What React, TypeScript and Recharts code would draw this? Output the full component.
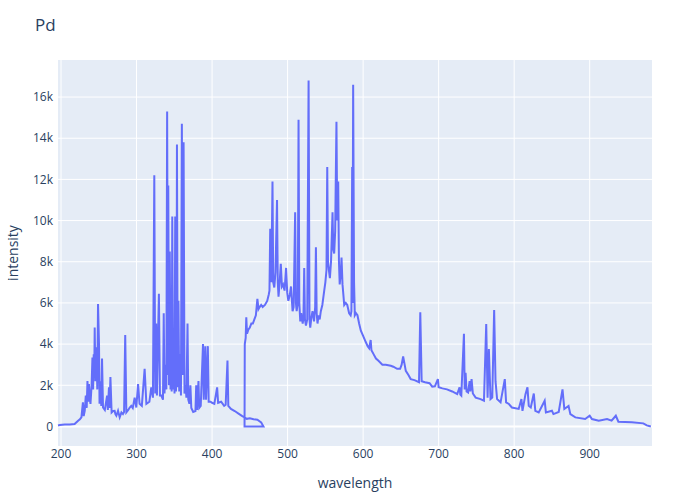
import { LineChart, Line, XAxis, YAxis, CartesianGrid, ReferenceLine } from 'recharts'

// first detector segment (ends near 468 nm)
const wl1 = [
  196, 198.4, 205, 211.6, 218, 222.6, 225, 227, 229, 230, 231.4, 232.8, 234, 235, 236, 237, 238, 239,
  240.5, 241.6, 242.5, 243.3, 244, 244.6, 245.5, 247, 248, 249, 250.3, 251, 252.6, 253.3, 254.3, 255.6,
  258, 261, 262, 263.5, 264.3, 265.4, 267, 269, 271, 272, 273.3, 275.5, 277.7, 280, 282, 283.5, 285,
  286.5, 289, 291, 293, 295, 297.5, 299.7, 302, 304, 307, 310.7, 313, 317, 319.5, 321.7, 323.5, 324.7,
  326, 327, 328, 329.6, 331, 332.8, 335, 336, 337, 338.5, 339.5, 340.5, 341.5, 342, 343, 344, 345, 346,
  346.5, 347.3, 348.3, 349.3, 350.3, 351.2, 352.2, 353, 353.5, 354.5, 355.5, 356.5, 358, 358.8, 360,
  361, 362.3, 363.5, 365, 366, 367.5, 368.5, 370, 371.3, 372.5, 375, 378, 379, 380, 382, 383, 385, 388,
  389, 391, 392, 394.4, 395.5, 398, 400, 403, 406.7, 408, 412, 416, 418, 420.4, 421.5, 425, 430, 436,
  440, 443, 446, 450, 455, 460, 465, 468,
]
const int1 = [
  50, 70, 90, 100, 120, 280, 350, 440, 1170, 500, 760, 1500, 900, 2200, 1200, 2060, 1400, 1090,
  2000, 3350, 1800, 3500, 2500, 4800, 2200, 3840, 1800, 5950, 4000, 1100, 2200, 1000, 3300, 920,
  800, 1500, 800, 1900, 900, 2400, 680, 750, 760, 600, 520, 760, 440, 680, 600, 700, 4440,
  680, 800, 920, 1000, 900, 1400, 920, 2060, 1100, 1000, 2800, 1100, 1200, 1900, 1400, 12200, 1600,
  5000, 1500, 3500, 6450, 1500, 1500, 1300, 5500, 1600, 3000, 1800, 15300, 2500, 11700, 2000, 8500, 1800, 6000,
  1700, 10200, 1800, 4500, 1600, 10200, 1700, 4000, 13700, 1900, 6100, 1700, 3500, 1500, 14700,
  2500, 13800, 1600, 2000, 1400, 5000, 1300, 1100, 2000, 900, 700, 750, 2000, 800, 2200, 900, 1000, 4000,
  1300, 3900, 1300, 3900, 1200, 1200, 1150, 1100, 1900, 1150, 1200, 1000, 1050, 3200, 1000, 850, 750, 600,
  500, 440, 370, 400, 350, 330, 200, 0,
]

// second detector segment (starts back at 443 nm)
const wl2 = [
  443, 443.3, 444.5, 445.3, 446.3, 448, 450, 452, 454, 456, 458, 460, 461.5, 463, 465, 467, 470, 473,
  475, 476, 477, 478.5, 480, 481, 482.4, 484, 486, 487, 488, 489.5, 491, 492.5, 494, 496, 498, 499.5,
  501, 503, 504.5, 506.6, 508, 510, 511, 512, 513.5, 514.5, 515.5, 516.8, 518, 520, 521, 522, 523,
  524.3, 526, 527.8, 529, 530, 531.5, 533, 535, 536.5, 537.5, 538.5, 539.6, 541, 542.5, 544, 546,
  548.5, 550, 551.5, 552.5, 553.5, 555, 556, 557.5, 559.5, 560.5, 561.7, 563, 564.7, 565.7, 567, 568,
  569, 570.5, 571.4, 572.7, 575, 577, 579, 581.5, 583.5, 584.5, 585.5, 586, 586.8, 588, 589, 590.5,
  592.5, 594.7, 597, 600, 603.5, 606, 608, 610, 611, 614, 617, 620, 625.5, 630, 636.6, 640, 645, 649,
  651, 653, 655, 656.5, 660, 663, 668, 674, 675.7, 677.5, 682, 688, 691.5, 695, 699, 700, 705, 711,
  718, 724.6, 727.7, 728.7, 730, 733.5, 734.5, 735.7, 737, 739, 741, 742, 743.6, 745.3, 749, 755.5,
  760, 763, 764.8, 766.5, 768.7, 771, 773.5, 775.3, 777.4, 782, 787.6, 789.3, 793, 797, 806, 809.6,
  811, 815, 817.6, 819.3, 822, 826, 828, 832.5, 840.4, 842, 850, 852, 859, 864, 866.4, 872, 874.4,
  881, 894, 900, 903, 912, 923, 929, 934.6, 938, 955.8, 971, 975.6, 981,
]
const int2 = [
  0, 4000, 4300, 5300, 4500, 4700, 4800, 5000, 5000, 5200, 5400, 6200, 5700, 5800, 5900, 5800, 5900, 6100,
  6400, 6600, 9600, 7000, 11900, 7000, 6750, 7500, 11000, 7000, 6300, 7000, 7900, 6800, 6900, 6600, 7700, 6500,
  6100, 6400, 6800, 5600, 5800, 10400, 6000, 5600, 6000, 14900, 6000, 5100, 5500, 5000, 5300, 7700, 5200,
  4900, 5200, 16800, 5200, 4800, 5300, 5600, 5100, 5800, 8700, 5500, 5000, 5400, 5200, 5600, 5900,
  6600, 7000, 7600, 12600, 8000, 7500, 7200, 8000, 10400, 8600, 8400, 9500, 14800, 10000, 11900, 8000,
  6900, 7500, 8200, 6900, 5900, 6000, 5900, 5500, 5400, 5600, 12600, 6000, 16600, 7000, 5400, 5500,
  5400, 5000, 4650, 4400, 4100, 3900, 3800, 4200, 3700, 3500, 3300, 3200, 3000, 3000, 2950, 2900, 2800, 2800,
  3000, 3400, 3000, 2700, 2500, 2300, 2250, 2150, 5550, 2200, 2150, 2100, 1930, 1950, 2300, 1900, 1850, 1800,
  1700, 1570, 1900, 1550, 1500, 4500, 1800, 2600, 1700, 1650, 2200, 1700, 2300, 1600, 1400, 1330,
  1250, 4980, 1400, 3760, 1330, 1400, 5650, 2200, 1330, 1170, 2300, 1170, 1090, 920, 850, 1330,
  760, 1570, 1900, 1000, 920, 1600, 760, 680, 1250, 680, 760, 600, 700, 1800, 850, 1000, 600,
  440, 360, 520, 360, 280, 360, 280, 520, 230, 200, 150, 50, 0,
]

const xTicks = [200, 300, 400, 500, 600, 700, 800, 900]
const yTicks = [0, 2000, 4000, 6000, 8000, 10000, 12000, 14000, 16000]

const data = [
  ...wl1.map((w, i) => ({ wl: w, intensity: int1[i] })),
  ...wl2.map((w, i) => ({ wl: w, intensity: int2[i] })),
]

const font = '"Open Sans", verdana, arial, sans-serif'
const ink = '#2a3f5f'

export default function App() {
  return (
    <div style={{ position: 'absolute', left: 0, top: 0, width: 700, height: 500, background: '#fff', fontFamily: font }}>
      <LineChart width={700} height={500} data={data} margin={{ top: 60, right: 48, bottom: 0, left: 0 }}>
        <CartesianGrid fill="#E5ECF6" stroke="#fff" strokeWidth={1} horizontalValues={yTicks} verticalValues={xTicks} />
        <ReferenceLine y={0} stroke="#fff" strokeWidth={2} />
        <XAxis
          dataKey="wl"
          type="number"
          domain={[196, 982.5]}
          ticks={xTicks}
          height={54}
          axisLine={false}
          tickLine={false}
          tickSize={0}
          tickMargin={3}
          tick={{ fill: ink, fontSize: 12, fontFamily: font }}
        />
        <YAxis
          type="number"
          domain={[-950, 17800]}
          ticks={yTicks}
          width={58}
          axisLine={false}
          tickLine={false}
          tickSize={0}
          tickMargin={5}
          tick={{ fill: ink, fontSize: 12, fontFamily: font }}
          tickFormatter={(v: number) => (v === 0 ? '0' : `${v / 1000}k`)}
        />
        <Line
          dataKey="intensity"
          type="linear"
          stroke="#636efa"
          strokeWidth={2}
          dot={false}
          isAnimationActive={false}
        />
      </LineChart>
      <div style={{ position: 'absolute', left: 35, top: 13, fontSize: 17, color: ink }}>Pd</div>
      <div style={{ position: 'absolute', left: 0, width: 710, top: 473, textAlign: 'center', fontSize: 14, color: ink }}>
        wavelength
      </div>
      <div
        style={{
          position: 'absolute',
          left: 12,
          top: 253,
          fontSize: 14,
          color: ink,
          transform: 'translate(-50%, -50%) rotate(-90deg)',
          whiteSpace: 'nowrap',
        }}
      >
        intensity
      </div>
    </div>
  )
}
